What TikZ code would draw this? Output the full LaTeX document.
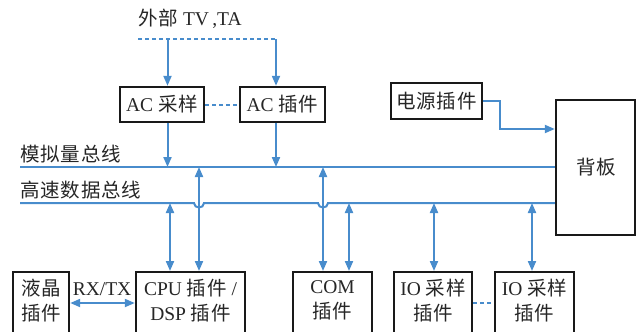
\documentclass[tikz,border=0pt]{standalone}
\usepackage{fontspec}
\setmainfont{Liberation Serif}
\newfontfamily\cjk[LetterSpace=4]{Noto Sans CJK SC}
\usetikzlibrary{arrows.meta}
\definecolor{busblue}{RGB}{72,140,204}
\begin{document}
\begin{tikzpicture}[x=1pt,y=-1pt,
  box/.style={draw=black!90,line width=2.4pt,inner sep=0pt},
  txt/.style={text=black!85,font=\fontsize{19.5}{25}\selectfont,inner sep=0pt,align=center},
  bus/.style={draw=busblue,line width=2pt},
  arr/.style={bus,-{Triangle[length=10pt,width=8pt]}},
  darr/.style={bus,{Triangle[length=10pt,width=8pt]}-{Triangle[length=10pt,width=8pt]}},
  dashline/.style={bus,dash pattern=on 4pt off 3pt}
]
\useasboundingbox (0,0) rectangle (638,332);
\clip (0,0) rectangle (638,332);

% top label
\node[txt] (ext) at (190,19) {{\cjk 外部} TV\,,TA};

% boxes
\node[box,txt,minimum width=84pt,minimum height=35pt] (acs) at (162,104.5) {AC {\cjk 采样}};
\node[box,txt,minimum width=85pt,minimum height=35pt] (aci) at (282.5,104.5) {AC {\cjk 插件}};
\node[box,txt,minimum width=91pt,minimum height=36pt] (pwr) at (436.5,101) {\cjk 电源插件};
\node[box,minimum width=79pt,minimum height=135pt] (bp) at (595.5,167.5) {};
\node[txt] (bptxt) at (596,167) {\cjk 背板};

% bottom boxes (cut at bottom edge)
\node[box,anchor=north,minimum width=56pt,minimum height=80pt] (lcd) at (41,271) {};
\node[box,anchor=north,minimum width=109pt,minimum height=80pt] (cpu) at (190.5,271) {};
\node[box,anchor=north,minimum width=79pt,minimum height=80pt] (com) at (332.5,271) {};
\node[box,anchor=north,minimum width=78pt,minimum height=80pt] (io1) at (433,271) {};
\node[box,anchor=north,minimum width=79pt,minimum height=80pt] (io2) at (534.5,271) {};

\node[txt] (lcdtxt) at (41,300.5) {\cjk 液晶\\\cjk 插件};
\node[txt] (cputxt) at (190.5,300.5) {CPU {\cjk 插件} /\\DSP {\cjk 插件}};
\node[txt] (comtxt) at (332.5,300.5) {COM\\\cjk 插件};
\node[txt] (io1txt) at (433,300.5) {IO {\cjk 采样}\\\cjk 插件};
\node[txt] (io2txt) at (534.5,300.5) {IO {\cjk 采样}\\\cjk 插件};
\node[txt] (rxtx) at (102,289) {RX/TX};

% bus labels
\node[txt,anchor=west] (albl) at (20,154) {\cjk 模拟量总线};
\node[txt,anchor=west] (hlbl) at (20,190) {\cjk 高速数据总线};

% coordinates
\coordinate (tl) at (138,39);
\coordinate (tm) at (167.5,39);
\coordinate (tr) at (276,39);
\coordinate (ab0) at (20,167);
\coordinate (hb0) at (20,203);
\coordinate (xc1) at (170,0);
\coordinate (xc2) at (199,0);
\coordinate (xm1) at (323,0);
\coordinate (xm2) at (349,0);
\coordinate (xi1) at (434,0);
\coordinate (xi2) at (532,0);
\coordinate (pk) at (500,0);

% top dashed feed
\draw[dashline] (tl) -- (tr);
\draw[arr] (tm) -- (tm |- acs.north);
\draw[arr] (tr) -- (tr |- aci.north);
\draw[dashline] (acs.east) -- (aci.west);

% analog bus
\draw[bus] (ab0) -- (ab0 -| bp.west);
\draw[arr] (tm |- acs.south) -- (tm |- ab0);
\draw[arr] (tr |- aci.south) -- (tr |- ab0);

% high-speed bus with hops
\draw[bus] (hb0) -- ([xshift=-5pt]xc2 |- hb0)
  .. controls ([xshift=-5pt,yshift=-6pt]xc2 |- hb0) and ([xshift=5pt,yshift=-6pt]xc2 |- hb0) .. ([xshift=5pt]xc2 |- hb0)
  -- ([xshift=-5pt]xm1 |- hb0)
  .. controls ([xshift=-5pt,yshift=-6pt]xm1 |- hb0) and ([xshift=5pt,yshift=-6pt]xm1 |- hb0) .. ([xshift=5pt]xm1 |- hb0)
  -- (hb0 -| bp.west);

% power feed
\draw[arr] (pwr.east) -- (pk |- pwr.east) -- (pk |- 0,129) -- (bp.west |- 0,129);

% vertical links
\draw[darr] (xc1 |- hb0) -- (xc1 |- cpu.north);
\draw[darr] (xc2 |- ab0) -- (xc2 |- cpu.north);
\draw[darr] (xm1 |- ab0) -- (xm1 |- com.north);
\draw[darr] (xm2 |- hb0) -- (xm2 |- com.north);
\draw[darr] (xi1 |- hb0) -- (xi1 |- io1.north);
\draw[darr] (xi2 |- hb0) -- (xi2 |- io2.north);

% bottom horizontal links
\draw[darr] (lcd.east |- 0,303) -- (cpu.west |- 0,303);
\draw[dashline] (io1.east |- 0,303) -- (io2.west |- 0,303);
\end{tikzpicture}
\end{document}
